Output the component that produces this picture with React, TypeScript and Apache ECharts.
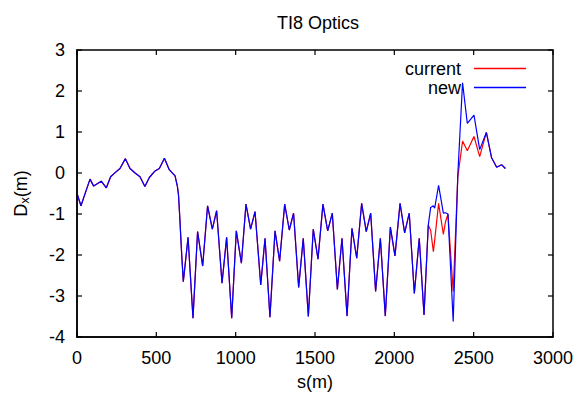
import React, { useEffect, useRef } from "react";
import * as echarts from "echarts";

const sValues = [
  0, 25, 82, 105, 153, 185, 212, 240, 271, 305, 334, 366, 397, 428, 456, 492, 519, 551, 580, 618,
  633, 640, 648, 660, 670, 700, 731, 760, 792, 823, 853, 880, 914, 943, 975, 1004, 1036, 1065, 1094, 1122,
  1158, 1185, 1216, 1248, 1277, 1309, 1338, 1365, 1397, 1426, 1458, 1489, 1519, 1550, 1580, 1609,
  1641, 1670, 1702, 1733, 1763, 1794, 1823, 1851, 1882, 1912, 1943, 1975, 2004, 2036, 2065, 2094,
  2126, 2157, 2187, 2214, 2229, 2246, 2254, 2279, 2309, 2322, 2338, 2371, 2400, 2430, 2460, 2502,
  2538, 2580, 2613, 2645, 2677, 2700,
];

const currentDx = [
  -0.5, -0.8, -0.15, -0.32, -0.2, -0.36, -0.09, 0.01, 0.11, 0.35, 0.11, 0.0, -0.09, -0.33, -0.11, 0.05, 0.11, 0.36, 0.09, -0.07,
  -0.33, -0.55, -1.1, -2.0, -2.65, -1.57, -3.54, -1.43, -2.27, -0.8, -1.37, -0.92, -2.69, -1.57, -3.54, -1.41, -2.2, -0.76, -1.37, -0.94,
  -2.73, -1.59, -3.52, -1.41, -2.15, -0.76, -1.39, -0.98, -2.79, -1.59, -3.5, -1.37, -2.1, -0.76, -1.41, -0.98,
  -2.84, -1.59, -3.49, -1.35, -2.08, -0.74, -1.43, -0.98, -2.89, -1.59, -3.49, -1.32, -2.02, -0.74, -1.46, -0.98,
  -2.94, -1.59, -3.46, -1.27, -1.4, -1.92, -1.65, -0.74, -1.5, -1.2, -1.0, -2.89, -0.1, 0.78, 0.54, 0.89,
  0.4, 0.99, 0.37, 0.14, 0.2, 0.11,
];

const newDx = [
  -0.5, -0.8, -0.15, -0.32, -0.2, -0.36, -0.09, 0.01, 0.11, 0.35, 0.11, 0.0, -0.09, -0.33, -0.11, 0.05, 0.11, 0.36, 0.09, -0.07,
  -0.33, -0.55, -1.1, -2.0, -2.65, -1.57, -3.54, -1.43, -2.27, -0.8, -1.37, -0.92, -2.69, -1.57, -3.54, -1.41, -2.2, -0.76, -1.37, -0.94,
  -2.73, -1.59, -3.52, -1.41, -2.15, -0.76, -1.39, -0.98, -2.79, -1.59, -3.5, -1.37, -2.1, -0.76, -1.41, -0.98,
  -2.84, -1.59, -3.49, -1.35, -2.08, -0.74, -1.43, -0.98, -2.89, -1.59, -3.49, -1.32, -2.02, -0.74, -1.46, -0.98,
  -2.94, -1.59, -3.46, -1.27, -0.84, -0.8, -0.86, -0.3, -0.98, -0.97, -1.0, -3.62, -0.05, 2.2, 1.21, 1.41,
  0.57, 0.99, 0.37, 0.14, 0.2, 0.11,
];

const seriesNames = ["current", "new"];
const xTickValues = [0, 500, 1000, 1500, 2000, 2500, 3000];
const yTickValues = [-4, -3, -2, -1, 0, 1, 2, 3];

const FONT = "'Liberation Sans', Arial, sans-serif";

export default function App() {
  const ref = useRef<HTMLDivElement>(null);
  useEffect(() => {
    if (!ref.current) return;
    const chart = echarts.init(ref.current, undefined, { renderer: "svg" });
    const xMin = xTickValues[0];
    const xMax = xTickValues[xTickValues.length - 1];
    const yMin = yTickValues[0];
    const yMax = yTickValues[yTickValues.length - 1];
    const mkPairs = (vals: number[]) => sValues.map((s, i) => [s, vals[i]]);
    const fmt = (v: number) => String(v);
    const L = 5;
    const tickStyle = { stroke: "#000", lineWidth: 1.2, fill: "none" };

    // frame + inward ticks on all four sides, positioned through the axes' scales
    const xTickRender = (params: any, api: any) => {
      const v = api.value(0);
      const b = api.coord([v, yMin]);
      const t = api.coord([v, yMax]);
      const children: any[] = [
        { type: "line", shape: { x1: b[0], y1: b[1], x2: b[0], y2: b[1] - L }, style: tickStyle },
        { type: "line", shape: { x1: t[0], y1: t[1], x2: t[0], y2: t[1] + L }, style: tickStyle },
      ];
      if (params.dataIndex === 0) {
        const p0 = api.coord([xMin, yMin]);
        const p1 = api.coord([xMax, yMax]);
        children.push({
          type: "rect",
          shape: { x: p0[0], y: p1[1], width: p1[0] - p0[0], height: p0[1] - p1[1] },
          style: { fill: "none", stroke: "#000", lineWidth: 1.5 },
        });
      }
      return { type: "group", children };
    };
    const yTickRender = (params: any, api: any) => {
      const v = api.value(1);
      const l = api.coord([xMin, v]);
      const r = api.coord([xMax, v]);
      return {
        type: "group",
        children: [
          { type: "line", shape: { x1: l[0], y1: l[1], x2: l[0] + L, y2: l[1] }, style: tickStyle },
          { type: "line", shape: { x1: r[0], y1: r[1], x2: r[0] - L, y2: r[1] }, style: tickStyle },
        ],
      };
    };

    chart.setOption({
      animation: false,
      title: {
        text: "TI8 Optics",
        left: 272,
        top: 9,
        textStyle: { fontSize: 18, fontWeight: "normal", color: "#000", fontFamily: FONT },
      },
      grid: { left: 77, right: 27, top: 50, bottom: 59 },
      legend: {
        data: seriesNames,
        orient: "vertical",
        right: 49,
        top: 54,
        align: "right",
        icon: "rect",
        itemWidth: 52,
        itemHeight: 1.5,
        itemGap: 0,
        textStyle: { fontSize: 18, color: "#000", lineHeight: 19, fontFamily: FONT, padding: [0, 8, 0, 0] },
      },
      xAxis: {
        type: "value",
        min: xMin,
        max: xMax,
        interval: 500,
        axisLine: { show: true, onZero: false, lineStyle: { color: "#000", width: 1.5 } },
        axisTick: { show: false },
        splitLine: { show: false },
        axisLabel: { fontSize: 18, color: "#000", margin: 12, fontFamily: FONT, formatter: fmt },
        name: "s(m)",
        nameLocation: "middle",
        nameGap: 36,
        nameTextStyle: { fontSize: 18, color: "#000", fontFamily: FONT },
      },
      yAxis: {
        type: "value",
        min: yMin,
        max: yMax,
        interval: 1,
        axisLine: { show: true, onZero: false, lineStyle: { color: "#000", width: 1.5 } },
        axisTick: { show: false },
        splitLine: { show: false },
        axisLabel: { fontSize: 18, color: "#000", margin: 12, fontFamily: FONT, formatter: fmt },
        name: "{a|D}{b|x}{a|(m)}",
        nameLocation: "middle",
        nameGap: 46,
        nameRotate: 90,
        nameTextStyle: {
          color: "#000",
          fontFamily: FONT,
          rich: {
            a: { fontSize: 18, color: "#000", fontFamily: FONT },
            b: { fontSize: 13, color: "#000", fontFamily: FONT, verticalAlign: "bottom", padding: [8, 0, 0, 0] },
          },
        },
      },
      series: [
        {
          name: seriesNames[0],
          type: "line",
          data: mkPairs(currentDx),
          symbol: "none",
          lineStyle: { color: "#ff0000", width: 1.2 },
          itemStyle: { color: "#ff0000" },
        },
        {
          name: seriesNames[1],
          type: "line",
          data: mkPairs(newDx),
          symbol: "none",
          lineStyle: { color: "#0000ff", width: 1.2 },
          itemStyle: { color: "#0000ff" },
        },
        {
          name: "xTicks",
          type: "custom",
          silent: true,
          clip: false,
          z: 5,
          renderItem: xTickRender,
          data: xTickValues.map((v) => [v, yMin]),
        },
        {
          name: "yTicks",
          type: "custom",
          silent: true,
          clip: false,
          z: 5,
          renderItem: yTickRender,
          data: yTickValues.map((v) => [xMin, v]),
        },
      ],
    });
    return () => chart.dispose();
  }, []);
  return (
    <div
      ref={ref}
      style={{ position: "fixed", left: 0, top: 0, width: 580, height: 396, background: "#fff" }}
    />
  );
}
